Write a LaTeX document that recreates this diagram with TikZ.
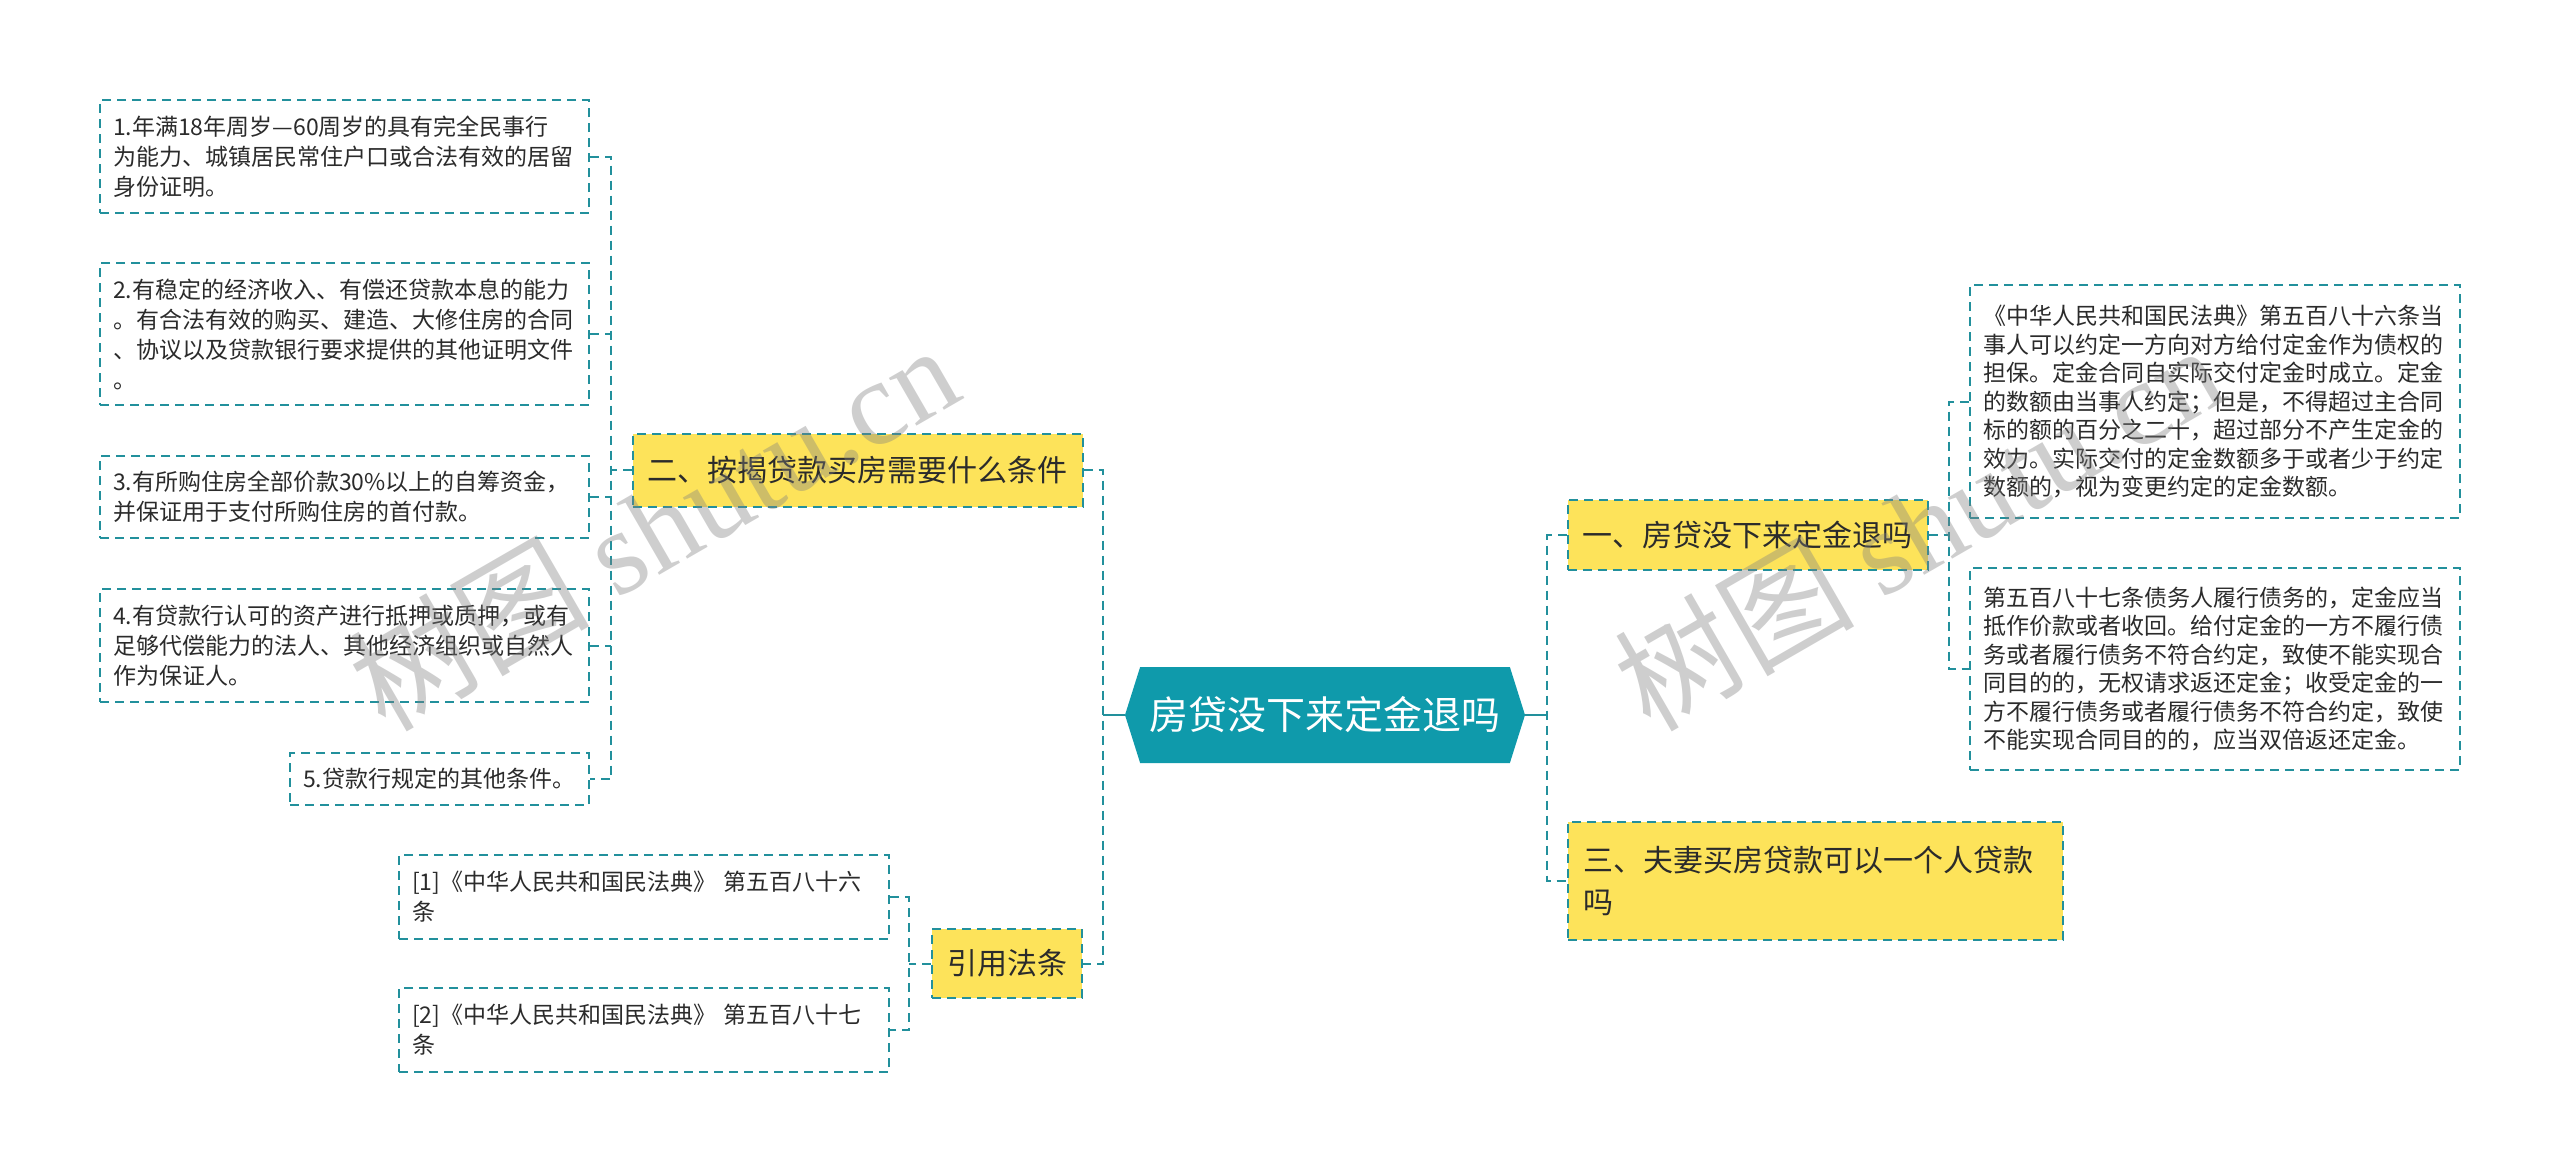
\documentclass[tikz,border=0pt]{standalone}
\usepackage{fontspec}
\setmainfont{Noto Sans CJK SC}
\newfontfamily\wmfont{Liberation Serif}
\usetikzlibrary{shapes.symbols,calc}
\definecolor{rootFill}{HTML}{0F9AAB}
\definecolor{linkDraw}{HTML}{22909C}
\definecolor{branchFill}{HTML}{FDE35A}
\definecolor{textCol}{HTML}{2B2B2B}
\tikzset{
  dashline/.style={draw=linkDraw, line width=2pt, dash pattern=on 9pt off 6pt},
  root/.style  ={signal, signal to=west and east, signal pointer angle=145, fill=rootFill, text=white,
                 minimum width=400pt, minimum height=96pt, inner sep=0pt, font=\fontsize{39}{44}\selectfont},
  branch/.style={dashline, fill=branchFill, text=textCol, inner xsep=15pt, inner ysep=0pt,
                 font=\fontsize{30}{42}\selectfont},
  leaf/.style  ={dashline, fill=white, text=textCol, align=left, inner xsep=13pt, inner ysep=0pt,
                 font=\fontsize{23}{30}\selectfont},
  rleaf/.style ={leaf, font=\fontsize{23}{28.5}\selectfont},
  link/.style  ={dashline},
  trunk/.style ={draw=linkDraw, line width=2pt},
  wm/.style    ={text=black!50, opacity=0.38, font=\fontsize{120}{120}\selectfont, inner sep=0pt},
}

\begin{document}
\begin{tikzpicture}[x=1pt, y=-1pt]
  \fill[white] (0,0) rectangle (2560,1172);
  \useasboundingbox (0,0) rectangle (2560,1172);

  \node[root] (root) at (1325,715) {房贷没下来定金退吗};

  \node[branch, minimum width=359pt, minimum height=70pt]  (n1) at (1747.5,535) {一、房贷没下来定金退吗};
  \node[branch, minimum width=449pt, minimum height=73pt]  (n2) at (857.5,470)  {二、按揭贷款买房需要什么条件};
  \node[branch, minimum height=118pt, text width=465pt, align=left] (n3) at (1815.5,881) {三、夫妻买房贷款可以一个人贷款\\吗};
  \node[branch, minimum width=150pt, minimum height=69pt]  (n4) at (1007,963.5)  {引用法条};

  % conditions
  \node[leaf, text width=463pt, minimum height=113pt] (b1) at (344.5,156.5)
    {1.年满18年周岁—60周岁的具有完全民事行\\为能力、城镇居民常住户口或合法有效的居留\\身份证明。};
  \node[leaf, text width=463pt, minimum height=142pt] (b2) at (344.5,334)
    {2.有稳定的经济收入、有偿还贷款本息的能力\\。有合法有效的购买、建造、大修住房的合同\\、协议以及贷款银行要求提供的其他证明文件\\。};
  \node[leaf, text width=463pt, minimum height=82pt] (b3) at (344.5,497)
    {3.有所购住房全部价款30\%以上的自筹资金，\\并保证用于支付所购住房的首付款。};
  \node[leaf, text width=463pt, minimum height=113pt] (b4) at (344.5,645.5)
    {4.有贷款行认可的资产进行抵押或质押，或有\\足够代偿能力的法人、其他经济组织或自然人\\作为保证人。};
  \node[leaf, text width=273pt, minimum height=52pt] (b5) at (439.5,779)
    {5.贷款行规定的其他条件。};

  % citations
  \node[leaf, text width=464pt, minimum height=84pt] (c1) at (644,897)
    {[1]《中华人民共和国民法典》 第五百八十六\\条};
  \node[leaf, text width=464pt, minimum height=84pt] (c2) at (644,1030)
    {[2]《中华人民共和国民法典》 第五百八十七\\条};

  % law text
  \node[rleaf, text width=464pt, minimum height=233pt] (r1) at (2215,401.5)
    {《中华人民共和国民法典》第五百八十六条当\\事人可以约定一方向对方给付定金作为债权的\\担保。定金合同自实际交付定金时成立。定金\\的数额由当事人约定；但是，不得超过主合同\\标的额的百分之二十，超过部分不产生定金的\\效力。实际交付的定金数额多于或者少于约定\\数额的，视为变更约定的定金数额。};
  \node[rleaf, text width=464pt, minimum height=202pt] (r2) at (2215,669)
    {第五百八十七条债务人履行债务的，定金应当\\抵作价款或者收回。给付定金的一方不履行债\\务或者履行债务不符合约定，致使不能实现合\\同目的的，无权请求返还定金；收受定金的一\\方不履行债务或者履行债务不符合约定，致使\\不能实现合同目的的，应当双倍返还定金。};

  \coordinate (busL) at (1103,715);
  \coordinate (busR) at (1547,715);
  \coordinate (bus2) at (611,470);
  \coordinate (bus1) at (1949,535);
  \coordinate (bus4) at (909,963.5);

  \draw[trunk] (root.west) -- (busL);
  \draw[trunk] (root.east) -- (busR);
  \draw[link] (n2.east) -| (busL) |- (n4.east);
  \draw[link] (n1.west) -| (busR) |- (n3.west);

  \draw[link] (n2.west) -- (bus2);
  \draw[link] (b1.east) -| (bus2) |- (b5.east);
  \foreach \c in {b2,b3,b4}
    \draw[link] (\c.east) -- (\c.east -| bus2);

  \draw[link] (n1.east) -- (bus1);
  \draw[link] (r1.west) -| (bus1) |- (r2.west);

  \draw[link] (n4.west) -- (bus4);
  \draw[link] (c1.east) -| (bus4) |- (c2.east);

  % watermark
  \node[wm, rotate=30] (wm1) at (653,526)  {树图 {\wmfont shutu.cn}};
  \node[wm, rotate=30] (wm2) at (1918,526) {树图 {\wmfont shutu.cn}};
\end{tikzpicture}
\end{document}
